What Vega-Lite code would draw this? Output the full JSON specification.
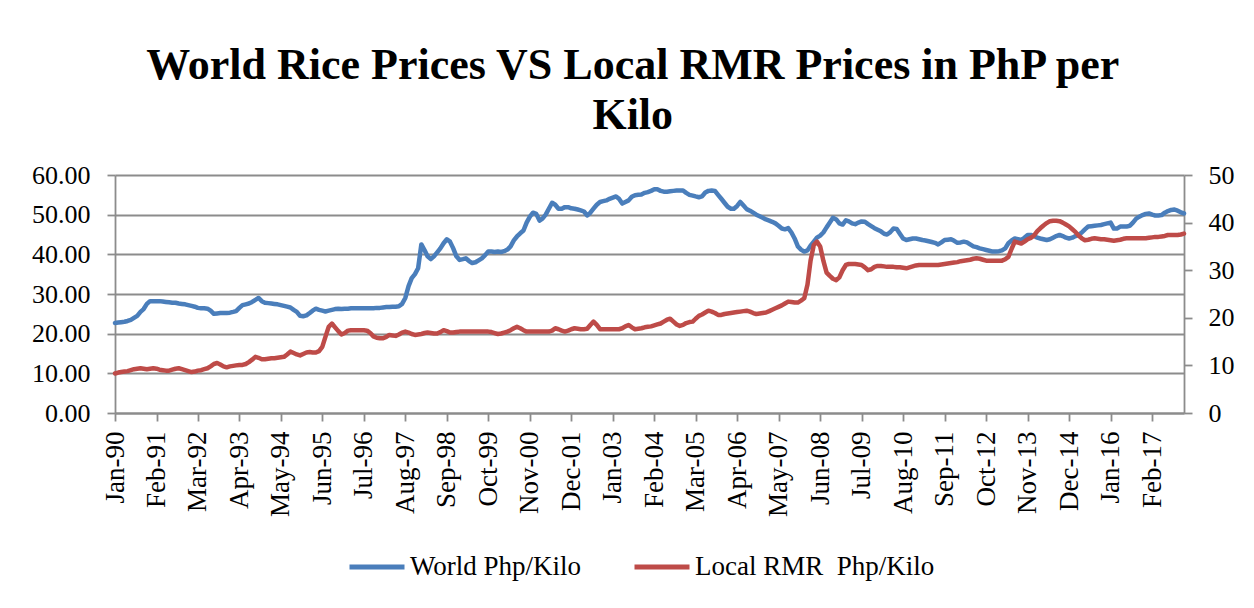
{
"$schema": "https://vega.github.io/schema/vega-lite/v6.json",
"width": 1069, "height": 238,
"autosize": "none",
"padding": {"left": 115, "top": 175, "right": 70, "bottom": 195},
"background": "white",
"title": {"text": ["World Rice Prices VS Local RMR Prices in PhP per", "Kilo"], "font": "Liberation Serif", "fontSize": 44, "fontWeight": "bold", "lineHeight": 50, "color": "black", "anchor": "middle", "frame": "bounds", "offset": 24},
"data": {"values": [
{"d":"1990-01-01","w":22.7,"r":8.3},{"d":"1990-02-01","w":22.8,"r":8.5},{"d":"1990-03-01","w":22.9,"r":8.6},{"d":"1990-04-01","w":23.0,"r":8.7},{"d":"1990-05-01","w":23.2,"r":8.8},{"d":"1990-06-01","w":23.5,"r":9.0},{"d":"1990-07-01","w":24.0,"r":9.2},{"d":"1990-08-01","w":24.5,"r":9.3},{"d":"1990-09-01","w":25.5,"r":9.4},{"d":"1990-10-01","w":26.2,"r":9.3},{"d":"1990-11-01","w":27.5,"r":9.2},{"d":"1990-12-01","w":28.2,"r":9.3},
{"d":"1991-01-01","w":28.2,"r":9.4},{"d":"1991-02-01","w":28.2,"r":9.3},{"d":"1991-03-01","w":28.2,"r":9.1},{"d":"1991-04-01","w":28.1,"r":9.0},{"d":"1991-05-01","w":28.0,"r":8.9},{"d":"1991-06-01","w":27.9,"r":8.9},{"d":"1991-07-01","w":27.8,"r":9.1},{"d":"1991-08-01","w":27.8,"r":9.3},{"d":"1991-09-01","w":27.6,"r":9.4},{"d":"1991-10-01","w":27.5,"r":9.2},{"d":"1991-11-01","w":27.4,"r":9.0},{"d":"1991-12-01","w":27.2,"r":8.8},
{"d":"1992-01-01","w":27.0,"r":8.6},{"d":"1992-02-01","w":26.8,"r":8.7},{"d":"1992-03-01","w":26.5,"r":8.9},{"d":"1992-04-01","w":26.4,"r":9.0},{"d":"1992-05-01","w":26.4,"r":9.2},{"d":"1992-06-01","w":26.3,"r":9.4},{"d":"1992-07-01","w":25.8,"r":9.8},{"d":"1992-08-01","w":25.0,"r":10.3},{"d":"1992-09-01","w":25.1,"r":10.5},{"d":"1992-10-01","w":25.2,"r":10.2},{"d":"1992-11-01","w":25.2,"r":9.8},{"d":"1992-12-01","w":25.2,"r":9.6},
{"d":"1993-01-01","w":25.3,"r":9.8},{"d":"1993-02-01","w":25.5,"r":9.9},{"d":"1993-03-01","w":25.7,"r":10.0},{"d":"1993-04-01","w":26.5,"r":10.1},{"d":"1993-05-01","w":27.2,"r":10.1},{"d":"1993-06-01","w":27.4,"r":10.3},{"d":"1993-07-01","w":27.6,"r":10.7},{"d":"1993-08-01","w":28.0,"r":11.2},{"d":"1993-09-01","w":28.5,"r":11.8},{"d":"1993-10-01","w":29.0,"r":11.6},{"d":"1993-11-01","w":28.2,"r":11.3},{"d":"1993-12-01","w":27.8,"r":11.3},
{"d":"1994-01-01","w":27.7,"r":11.4},{"d":"1994-02-01","w":27.6,"r":11.5},{"d":"1994-03-01","w":27.5,"r":11.5},{"d":"1994-04-01","w":27.4,"r":11.6},{"d":"1994-05-01","w":27.2,"r":11.7},{"d":"1994-06-01","w":27.0,"r":11.8},{"d":"1994-07-01","w":26.8,"r":12.3},{"d":"1994-08-01","w":26.6,"r":12.9},{"d":"1994-09-01","w":26.0,"r":12.6},{"d":"1994-10-01","w":25.5,"r":12.3},{"d":"1994-11-01","w":24.5,"r":12.1},{"d":"1994-12-01","w":24.4,"r":12.4},
{"d":"1995-01-01","w":24.6,"r":12.7},{"d":"1995-02-01","w":25.2,"r":12.8},{"d":"1995-03-01","w":25.8,"r":12.7},{"d":"1995-04-01","w":26.3,"r":12.7},{"d":"1995-05-01","w":26.0,"r":13.0},{"d":"1995-06-01","w":25.8,"r":13.9},{"d":"1995-07-01","w":25.6,"r":16.0},{"d":"1995-08-01","w":25.8,"r":18.1},{"d":"1995-09-01","w":26.0,"r":18.8},{"d":"1995-10-01","w":26.2,"r":18.0},{"d":"1995-11-01","w":26.3,"r":17.2},{"d":"1995-12-01","w":26.2,"r":16.5},
{"d":"1996-01-01","w":26.3,"r":16.8},{"d":"1996-02-01","w":26.3,"r":17.3},{"d":"1996-03-01","w":26.4,"r":17.4},{"d":"1996-04-01","w":26.4,"r":17.4},{"d":"1996-05-01","w":26.4,"r":17.4},{"d":"1996-06-01","w":26.4,"r":17.4},{"d":"1996-07-01","w":26.4,"r":17.4},{"d":"1996-08-01","w":26.4,"r":17.3},{"d":"1996-09-01","w":26.4,"r":16.8},{"d":"1996-10-01","w":26.4,"r":16.1},{"d":"1996-11-01","w":26.5,"r":15.8},{"d":"1996-12-01","w":26.5,"r":15.7},
{"d":"1997-01-01","w":26.6,"r":15.7},{"d":"1997-02-01","w":26.7,"r":16.0},{"d":"1997-03-01","w":26.7,"r":16.4},{"d":"1997-04-01","w":26.8,"r":16.3},{"d":"1997-05-01","w":26.8,"r":16.2},{"d":"1997-06-01","w":26.9,"r":16.5},{"d":"1997-07-01","w":27.5,"r":16.9},{"d":"1997-08-01","w":29.0,"r":17.1},{"d":"1997-09-01","w":32.0,"r":16.9},{"d":"1997-10-01","w":34.0,"r":16.6},{"d":"1997-11-01","w":35.0,"r":16.4},{"d":"1997-12-01","w":36.5,"r":16.5},
{"d":"1998-01-01","w":42.5,"r":16.6},{"d":"1998-02-01","w":41.0,"r":16.8},{"d":"1998-03-01","w":39.5,"r":16.9},{"d":"1998-04-01","w":38.8,"r":16.8},{"d":"1998-05-01","w":39.5,"r":16.7},{"d":"1998-06-01","w":40.5,"r":16.7},{"d":"1998-07-01","w":41.5,"r":17.0},{"d":"1998-08-01","w":42.8,"r":17.4},{"d":"1998-09-01","w":43.8,"r":17.2},{"d":"1998-10-01","w":43.2,"r":16.9},{"d":"1998-11-01","w":41.5,"r":16.9},{"d":"1998-12-01","w":39.5,"r":17.0},
{"d":"1999-01-01","w":38.6,"r":17.1},{"d":"1999-02-01","w":38.8,"r":17.1},{"d":"1999-03-01","w":39.0,"r":17.1},{"d":"1999-04-01","w":38.3,"r":17.1},{"d":"1999-05-01","w":37.8,"r":17.1},{"d":"1999-06-01","w":38.0,"r":17.1},{"d":"1999-07-01","w":38.5,"r":17.1},{"d":"1999-08-01","w":39.0,"r":17.1},{"d":"1999-09-01","w":39.8,"r":17.1},{"d":"1999-10-01","w":40.7,"r":17.1},{"d":"1999-11-01","w":40.7,"r":17.0},{"d":"1999-12-01","w":40.6,"r":16.8},
{"d":"2000-01-01","w":40.7,"r":16.6},{"d":"2000-02-01","w":40.6,"r":16.7},{"d":"2000-03-01","w":40.8,"r":16.9},{"d":"2000-04-01","w":41.2,"r":17.1},{"d":"2000-05-01","w":42.0,"r":17.4},{"d":"2000-06-01","w":43.5,"r":17.8},{"d":"2000-07-01","w":44.5,"r":18.1},{"d":"2000-08-01","w":45.3,"r":17.8},{"d":"2000-09-01","w":46.0,"r":17.4},{"d":"2000-10-01","w":48.0,"r":17.1},{"d":"2000-11-01","w":49.5,"r":17.1},{"d":"2000-12-01","w":50.5,"r":17.1},
{"d":"2001-01-01","w":50.2,"r":17.1},{"d":"2001-02-01","w":48.5,"r":17.1},{"d":"2001-03-01","w":49.0,"r":17.1},{"d":"2001-04-01","w":50.0,"r":17.1},{"d":"2001-05-01","w":51.5,"r":17.1},{"d":"2001-06-01","w":53.0,"r":17.3},{"d":"2001-07-01","w":52.5,"r":17.8},{"d":"2001-08-01","w":51.5,"r":17.6},{"d":"2001-09-01","w":51.5,"r":17.3},{"d":"2001-10-01","w":51.9,"r":17.1},{"d":"2001-11-01","w":51.9,"r":17.3},{"d":"2001-12-01","w":51.6,"r":17.6},
{"d":"2002-01-01","w":51.5,"r":17.8},{"d":"2002-02-01","w":51.3,"r":17.7},{"d":"2002-03-01","w":51.1,"r":17.6},{"d":"2002-04-01","w":50.8,"r":17.6},{"d":"2002-05-01","w":49.8,"r":17.7},{"d":"2002-06-01","w":50.5,"r":18.5},{"d":"2002-07-01","w":51.5,"r":19.2},{"d":"2002-08-01","w":52.5,"r":18.5},{"d":"2002-09-01","w":53.2,"r":17.6},{"d":"2002-10-01","w":53.4,"r":17.6},{"d":"2002-11-01","w":53.6,"r":17.6},{"d":"2002-12-01","w":54.0,"r":17.6},
{"d":"2003-01-01","w":54.3,"r":17.6},{"d":"2003-02-01","w":54.6,"r":17.6},{"d":"2003-03-01","w":54.0,"r":17.6},{"d":"2003-04-01","w":52.8,"r":17.8},{"d":"2003-05-01","w":53.2,"r":18.2},{"d":"2003-06-01","w":53.6,"r":18.5},{"d":"2003-07-01","w":54.5,"r":18.0},{"d":"2003-08-01","w":54.9,"r":17.6},{"d":"2003-09-01","w":55.0,"r":17.7},{"d":"2003-10-01","w":55.1,"r":17.8},{"d":"2003-11-01","w":55.5,"r":18.0},{"d":"2003-12-01","w":55.7,"r":18.1},
{"d":"2004-01-01","w":56.0,"r":18.2},{"d":"2004-02-01","w":56.4,"r":18.4},{"d":"2004-03-01","w":56.4,"r":18.6},{"d":"2004-04-01","w":56.0,"r":18.8},{"d":"2004-05-01","w":55.8,"r":19.2},{"d":"2004-06-01","w":55.8,"r":19.6},{"d":"2004-07-01","w":55.9,"r":19.8},{"d":"2004-08-01","w":56.0,"r":19.2},{"d":"2004-09-01","w":56.1,"r":18.6},{"d":"2004-10-01","w":56.1,"r":18.3},{"d":"2004-11-01","w":56.1,"r":18.5},{"d":"2004-12-01","w":55.5,"r":18.9},
{"d":"2005-01-01","w":55.0,"r":19.1},{"d":"2005-02-01","w":54.8,"r":19.2},{"d":"2005-03-01","w":54.6,"r":19.8},{"d":"2005-04-01","w":54.4,"r":20.4},{"d":"2005-05-01","w":54.6,"r":20.7},{"d":"2005-06-01","w":55.6,"r":21.1},{"d":"2005-07-01","w":56.0,"r":21.5},{"d":"2005-08-01","w":56.1,"r":21.3},{"d":"2005-09-01","w":56.0,"r":21.0},{"d":"2005-10-01","w":55.0,"r":20.6},{"d":"2005-11-01","w":54.0,"r":20.6},{"d":"2005-12-01","w":53.0,"r":20.8},
{"d":"2006-01-01","w":52.0,"r":20.9},{"d":"2006-02-01","w":51.5,"r":21.0},{"d":"2006-03-01","w":51.5,"r":21.1},{"d":"2006-04-01","w":52.2,"r":21.2},{"d":"2006-05-01","w":53.2,"r":21.3},{"d":"2006-06-01","w":52.3,"r":21.4},{"d":"2006-07-01","w":51.4,"r":21.5},{"d":"2006-08-01","w":51.0,"r":21.3},{"d":"2006-09-01","w":50.5,"r":21.0},{"d":"2006-10-01","w":50.0,"r":20.8},{"d":"2006-11-01","w":49.6,"r":20.9},{"d":"2006-12-01","w":49.2,"r":21.0},
{"d":"2007-01-01","w":48.8,"r":21.1},{"d":"2007-02-01","w":48.5,"r":21.4},{"d":"2007-03-01","w":48.2,"r":21.7},{"d":"2007-04-01","w":47.8,"r":22.0},{"d":"2007-05-01","w":47.2,"r":22.3},{"d":"2007-06-01","w":46.5,"r":22.6},{"d":"2007-07-01","w":46.3,"r":23.0},{"d":"2007-08-01","w":46.6,"r":23.4},{"d":"2007-09-01","w":45.5,"r":23.3},{"d":"2007-10-01","w":44.0,"r":23.2},{"d":"2007-11-01","w":42.0,"r":23.2},{"d":"2007-12-01","w":41.2,"r":23.6},
{"d":"2008-01-01","w":40.7,"r":24.1},{"d":"2008-02-01","w":41.0,"r":27.0},{"d":"2008-03-01","w":42.2,"r":32.0},{"d":"2008-04-01","w":43.2,"r":35.3},{"d":"2008-05-01","w":44.2,"r":36.0},{"d":"2008-06-01","w":44.7,"r":35.0},{"d":"2008-07-01","w":45.5,"r":32.0},{"d":"2008-08-01","w":46.8,"r":29.5},{"d":"2008-09-01","w":48.0,"r":28.8},{"d":"2008-10-01","w":49.2,"r":28.2},{"d":"2008-11-01","w":48.8,"r":27.9},{"d":"2008-12-01","w":47.8,"r":28.5},
{"d":"2009-01-01","w":47.5,"r":30.0},{"d":"2009-02-01","w":48.6,"r":31.1},{"d":"2009-03-01","w":48.3,"r":31.3},{"d":"2009-04-01","w":47.8,"r":31.3},{"d":"2009-05-01","w":47.6,"r":31.3},{"d":"2009-06-01","w":48.0,"r":31.2},{"d":"2009-07-01","w":48.3,"r":31.1},{"d":"2009-08-01","w":48.2,"r":30.6},{"d":"2009-09-01","w":47.6,"r":30.0},{"d":"2009-10-01","w":47.1,"r":30.2},{"d":"2009-11-01","w":46.6,"r":30.7},{"d":"2009-12-01","w":46.2,"r":30.9},
{"d":"2010-01-01","w":45.8,"r":30.9},{"d":"2010-02-01","w":45.2,"r":30.8},{"d":"2010-03-01","w":45.0,"r":30.7},{"d":"2010-04-01","w":45.6,"r":30.7},{"d":"2010-05-01","w":46.5,"r":30.7},{"d":"2010-06-01","w":46.4,"r":30.6},{"d":"2010-07-01","w":45.2,"r":30.6},{"d":"2010-08-01","w":44.0,"r":30.5},{"d":"2010-09-01","w":43.6,"r":30.4},{"d":"2010-10-01","w":43.8,"r":30.6},{"d":"2010-11-01","w":44.0,"r":30.8},{"d":"2010-12-01","w":44.0,"r":31.0},
{"d":"2011-01-01","w":43.8,"r":31.1},{"d":"2011-02-01","w":43.6,"r":31.1},{"d":"2011-03-01","w":43.5,"r":31.1},{"d":"2011-04-01","w":43.3,"r":31.1},{"d":"2011-05-01","w":43.1,"r":31.1},{"d":"2011-06-01","w":42.9,"r":31.1},{"d":"2011-07-01","w":42.5,"r":31.1},{"d":"2011-08-01","w":43.0,"r":31.2},{"d":"2011-09-01","w":43.6,"r":31.3},{"d":"2011-10-01","w":43.7,"r":31.4},{"d":"2011-11-01","w":43.8,"r":31.5},{"d":"2011-12-01","w":43.4,"r":31.6},
{"d":"2012-01-01","w":42.9,"r":31.7},{"d":"2012-02-01","w":43.0,"r":31.9},{"d":"2012-03-01","w":43.2,"r":32.0},{"d":"2012-04-01","w":43.0,"r":32.1},{"d":"2012-05-01","w":42.5,"r":32.2},{"d":"2012-06-01","w":42.0,"r":32.4},{"d":"2012-07-01","w":41.8,"r":32.5},{"d":"2012-08-01","w":41.5,"r":32.4},{"d":"2012-09-01","w":41.3,"r":32.2},{"d":"2012-10-01","w":41.1,"r":32.0},{"d":"2012-11-01","w":40.9,"r":32.0},{"d":"2012-12-01","w":40.7,"r":32.0},
{"d":"2013-01-01","w":40.7,"r":32.0},{"d":"2013-02-01","w":40.8,"r":32.0},{"d":"2013-03-01","w":41.0,"r":32.0},{"d":"2013-04-01","w":41.5,"r":32.3},{"d":"2013-05-01","w":42.8,"r":32.8},{"d":"2013-06-01","w":43.5,"r":34.5},{"d":"2013-07-01","w":44.0,"r":36.0},{"d":"2013-08-01","w":43.8,"r":35.8},{"d":"2013-09-01","w":43.6,"r":35.6},{"d":"2013-10-01","w":44.2,"r":36.0},{"d":"2013-11-01","w":44.9,"r":36.5},{"d":"2013-12-01","w":44.9,"r":36.8},
{"d":"2014-01-01","w":44.6,"r":37.3},{"d":"2014-02-01","w":44.2,"r":38.2},{"d":"2014-03-01","w":44.0,"r":38.8},{"d":"2014-04-01","w":43.8,"r":39.4},{"d":"2014-05-01","w":43.6,"r":39.9},{"d":"2014-06-01","w":43.8,"r":40.3},{"d":"2014-07-01","w":44.2,"r":40.4},{"d":"2014-08-01","w":44.6,"r":40.4},{"d":"2014-09-01","w":44.9,"r":40.3},{"d":"2014-10-01","w":44.6,"r":40.0},{"d":"2014-11-01","w":44.2,"r":39.6},{"d":"2014-12-01","w":44.0,"r":39.2},
{"d":"2015-01-01","w":44.2,"r":38.6},{"d":"2015-02-01","w":44.6,"r":38.0},{"d":"2015-03-01","w":44.9,"r":37.3},{"d":"2015-04-01","w":45.5,"r":36.7},{"d":"2015-05-01","w":46.3,"r":36.3},{"d":"2015-06-01","w":47.0,"r":36.4},{"d":"2015-07-01","w":47.1,"r":36.6},{"d":"2015-08-01","w":47.2,"r":36.7},{"d":"2015-09-01","w":47.3,"r":36.6},{"d":"2015-10-01","w":47.4,"r":36.5},{"d":"2015-11-01","w":47.6,"r":36.5},{"d":"2015-12-01","w":47.8,"r":36.4},
{"d":"2016-01-01","w":48.0,"r":36.3},{"d":"2016-02-01","w":46.5,"r":36.2},{"d":"2016-03-01","w":46.5,"r":36.3},{"d":"2016-04-01","w":47.0,"r":36.4},{"d":"2016-05-01","w":47.0,"r":36.6},{"d":"2016-06-01","w":47.0,"r":36.7},{"d":"2016-07-01","w":47.2,"r":36.7},{"d":"2016-08-01","w":48.0,"r":36.7},{"d":"2016-09-01","w":49.0,"r":36.7},{"d":"2016-10-01","w":49.5,"r":36.7},{"d":"2016-11-01","w":49.9,"r":36.7},{"d":"2016-12-01","w":50.2,"r":36.7},
{"d":"2017-01-01","w":50.3,"r":36.8},{"d":"2017-02-01","w":50.0,"r":36.9},{"d":"2017-03-01","w":49.8,"r":37.0},{"d":"2017-04-01","w":49.8,"r":37.0},{"d":"2017-05-01","w":49.9,"r":37.1},{"d":"2017-06-01","w":50.5,"r":37.2},{"d":"2017-07-01","w":50.9,"r":37.4},{"d":"2017-08-01","w":51.2,"r":37.4},{"d":"2017-09-01","w":51.3,"r":37.4},{"d":"2017-10-01","w":51.0,"r":37.4},{"d":"2017-11-01","w":50.6,"r":37.5},{"d":"2017-12-01","w":50.3,"r":37.7}
]},
"encoding": {
  "x": {"field": "d", "type": "temporal",
    "scale": {"type": "utc", "domain": [{"year": 1990, "month": 1, "date": 1, "utc": true}, {"year": 2017, "month": 12, "date": 1, "utc": true}]},
    "axis": {"title": null, "format": "%b-%y", "labelAngle": -90, "grid": false, "labelOverlap": false, "labelFlush": false, "labelBound": false,
      "values": [
        {"year":1990,"month":1,"date":1,"utc":true},{"year":1991,"month":2,"date":1,"utc":true},{"year":1992,"month":3,"date":1,"utc":true},{"year":1993,"month":4,"date":1,"utc":true},{"year":1994,"month":5,"date":1,"utc":true},{"year":1995,"month":6,"date":1,"utc":true},{"year":1996,"month":7,"date":1,"utc":true},{"year":1997,"month":8,"date":1,"utc":true},{"year":1998,"month":9,"date":1,"utc":true},{"year":1999,"month":10,"date":1,"utc":true},{"year":2000,"month":11,"date":1,"utc":true},{"year":2001,"month":12,"date":1,"utc":true},{"year":2003,"month":1,"date":1,"utc":true},{"year":2004,"month":2,"date":1,"utc":true},{"year":2005,"month":3,"date":1,"utc":true},{"year":2006,"month":4,"date":1,"utc":true},{"year":2007,"month":5,"date":1,"utc":true},{"year":2008,"month":6,"date":1,"utc":true},{"year":2009,"month":7,"date":1,"utc":true},{"year":2010,"month":8,"date":1,"utc":true},{"year":2011,"month":9,"date":1,"utc":true},{"year":2012,"month":10,"date":1,"utc":true},{"year":2013,"month":11,"date":1,"utc":true},{"year":2014,"month":12,"date":1,"utc":true},{"year":2016,"month":1,"date":1,"utc":true},{"year":2017,"month":2,"date":1,"utc":true}
      ],
      "tickSize": 8, "labelPadding": 10, "labelFontSize": 27}
  }
},
"layer": [
  {"mark": {"type": "line", "strokeWidth": 4.5, "strokeJoin": "round", "strokeCap": "round"},
   "encoding": {
     "y": {"field": "w", "type": "quantitative", "scale": {"domain": [0, 60], "nice": false},
       "axis": {"orient": "left", "title": null, "values": [0, 10, 20, 30, 40, 50, 60], "format": ".2f", "grid": true, "labelPadding": 17}},
     "color": {"datum": "World Php/Kilo", "type": "nominal",
       "scale": {"domain": ["World Php/Kilo", "Local RMR\u00a0 Php/Kilo"], "range": ["#4A7EBB", "#BE4B48"]},
       "legend": {"orient": "none", "legendX": 232, "legendY": 362, "direction": "horizontal", "title": null, "symbolType": "stroke", "symbolSize": 3025, "symbolStrokeWidth": 5, "labelFont": "Liberation Serif", "labelFontSize": 27, "labelColor": "black", "labelOffset": 3, "columnPadding": 42, "labelLimit": 400}}
   }},
  {"mark": {"type": "line", "strokeWidth": 4.5, "strokeJoin": "round", "strokeCap": "round"},
   "encoding": {
     "y": {"field": "r", "type": "quantitative", "scale": {"domain": [0, 50], "nice": false},
       "axis": {"orient": "right", "title": null, "values": [0, 10, 20, 30, 40, 50], "format": "d", "grid": false, "labelPadding": 16}},
     "color": {"datum": "Local RMR\u00a0 Php/Kilo", "type": "nominal"}
   }}
],
"resolve": {"scale": {"y": "independent"}},
"config": {
  "view": {"stroke": null},
  "axis": {"labelFont": "Liberation Serif", "labelFontSize": 26, "labelColor": "black", "domainColor": "#8c8c8c", "domainWidth": 1.8, "tickColor": "#8c8c8c", "tickWidth": 1.8, "tickSize": 8, "gridColor": "#8c8c8c", "gridWidth": 1.8, "gridOpacity": 1}
}
}
